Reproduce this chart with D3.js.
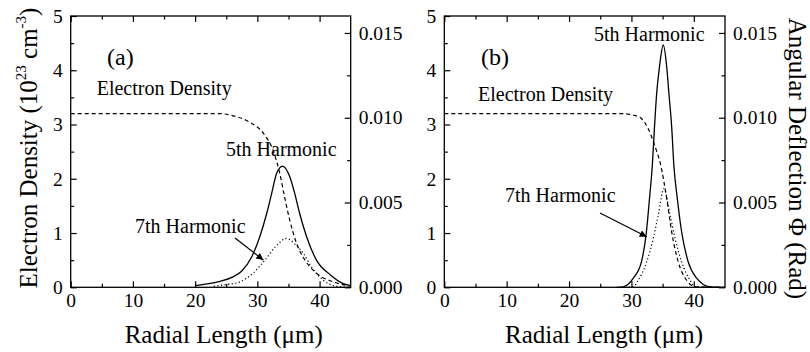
<!DOCTYPE html>
<html><head><meta charset="utf-8">
<script src="https://cdn.jsdelivr.net/npm/d3@7/dist/d3.min.js"></script>
<style>body{margin:0;background:#fff}svg{display:block}</style>
</head><body><svg id="c" width="810" height="352"></svg>
<script>
// ---- data ----
const xTicks = [0, 10, 20, 30, 40];
const xMinor = [5, 15, 25, 35];
const yLeftTicks = [0, 1, 2, 3, 4, 5];
const yLeftMinor = [0.5, 1.5, 2.5, 3.5, 4.5];
const yRightTicks = [0, 0.005, 0.010, 0.015];
const yRightMinor = [0.0025, 0.0075, 0.0125];

// panel (a): electron density (10^23 cm^-3) vs radial length (um)
const densityA = [[0,3.2],[10,3.2],[20,3.2],[24,3.2],[26.1,3.16],[28.8,3.04],[30.95,2.84],[32.6,2.5],[33.6,2.1],[34.4,1.65],[35.2,1.24],[36.3,0.81],[37.65,0.5],[39.5,0.26],[42.2,0.1],[45,0.02]];
// panel (a): angular deflection (rad)
const fifthA = [[20,0.0001],[22,0.0002],[24,0.00035],[26,0.0006],[27.5,0.00096],[29.1,0.0018],[30.4,0.003],[31.5,0.00435],[32.3,0.00554],[33.1,0.00672],[34.05,0.00715],[35.2,0.00653],[36,0.00554],[36.8,0.00435],[37.9,0.003],[39.5,0.0016],[41.7,0.00074],[43.8,0.00022],[45,0.0001]];
const seventhA = [[23,0.00006],[25,0.00016],[27.2,0.00032],[29.3,0.00083],[31.2,0.0016],[33,0.00243],[34.7,0.00288],[36,0.00256],[37.4,0.002],[38.7,0.0012],[40.6,0.00042],[42.7,0.00006],[45,0]];

// panel (b)
const densityB = [[0,3.2],[10,3.2],[20,3.2],[28.5,3.2],[30,3.18],[31.4,3.13],[32.7,2.92],[33.8,2.59],[34.7,2.25],[35.65,1.64],[36.45,1.02],[37.5,0.47],[38.85,0.13],[40.2,0.01],[45,0]];
const fifthB = [[27.6,0],[28.7,0.00003],[30.3,0.00054],[31.6,0.0015],[32.4,0.00326],[32.9,0.00525],[33.35,0.0072],[33.7,0.00947],[34.05,0.01146],[34.5,0.01302],[35.1,0.01429],[35.65,0.01302],[36,0.01146],[36.45,0.00947],[36.8,0.0072],[37.35,0.00525],[38.05,0.00326],[39.1,0.0015],[40.45,0.00054],[42.6,0.00003],[45,0]];
const seventhB = [[29,0],[30.3,0.00003],[31.1,0.00042],[32.45,0.0015],[33.5,0.00288],[34.3,0.00426],[35.2,0.00582],[36.2,0.00426],[37,0.00288],[38.05,0.0015],[39.4,0.00042],[40.2,0.00003],[42,0]];

const panels = [
  {x0: 70.7, x1: 350.7, tag: "(a)", tagPos: [107, 65],
   dens: densityA, h5: fifthA, h7: seventhA,
   edPos: [96.7, 94.5], h5Pos: [226, 155.5], h7Pos: [135, 233.3],
   arrow: [[235, 238], [263.3, 260]], xTitle: 223.7},
  {x0: 444.3, x1: 725, tag: "(b)", tagPos: [481, 65],
   dens: densityB, h5: fifthB, h7: seventhB,
   edPos: [478, 101], h5Pos: [594, 41], h7Pos: [505, 202.3],
   arrow: [[600, 213], [646.7, 236.7]], xTitle: 604}
];

const FONT = "'Liberation Serif','Times New Roman',serif";
const svg = d3.select("#c");
const yTop = 16, yBot = 287.3;

svg.append("defs").append("marker").attr("id","ah").attr("viewBox","0 0 10 10")
  .attr("refX",10).attr("refY",5).attr("markerWidth",9).attr("markerHeight",7)
  .attr("markerUnits","userSpaceOnUse").attr("orient","auto")
  .append("path").attr("d","M0,0L10,5L0,10z").attr("fill","#000");

panels.forEach(p => {
  const x = d3.scaleLinear().domain([0,45]).range([p.x0, p.x1]);
  const yL = d3.scaleLinear().domain([0,5]).range([yBot, yTop]);
  const yR = d3.scaleLinear().domain([0,0.016]).range([yBot, yTop]);
  const g = svg.append("g");

  function addAxis(axis, tr) {
    const a = g.append("g").attr("transform", tr).call(axis);
    a.select(".domain").remove();
    a.selectAll("line").attr("stroke","#000").attr("stroke-width",1.2);
    a.selectAll("text").attr("font-family",FONT).attr("font-size","19.5px").attr("fill","#000");
    return a;
  }
  addAxis(d3.axisBottom(x).tickValues(xTicks).tickSizeInner(-6).tickSizeOuter(0).tickPadding(6).tickFormat(d3.format("d")), `translate(0,${yBot})`);
  addAxis(d3.axisBottom(x).tickValues(xMinor).tickSizeInner(-3.5).tickSizeOuter(0).tickFormat(""), `translate(0,${yBot})`);
  addAxis(d3.axisTop(x).tickValues(xTicks).tickSizeInner(-6).tickSizeOuter(0).tickFormat(""), `translate(0,${yTop})`);
  addAxis(d3.axisTop(x).tickValues(xMinor).tickSizeInner(-3.5).tickSizeOuter(0).tickFormat(""), `translate(0,${yTop})`);
  addAxis(d3.axisLeft(yL).tickValues(yLeftTicks).tickSizeInner(-6).tickSizeOuter(0).tickPadding(8).tickFormat(d3.format("d")), `translate(${p.x0},0)`);
  addAxis(d3.axisLeft(yL).tickValues(yLeftMinor).tickSizeInner(-3.5).tickSizeOuter(0).tickFormat(""), `translate(${p.x0},0)`);
  addAxis(d3.axisRight(yR).tickValues(yRightTicks).tickSizeInner(-6).tickSizeOuter(0).tickPadding(8).tickFormat(d3.format(".3f")), `translate(${p.x1},0)`);
  addAxis(d3.axisRight(yR).tickValues(yRightMinor).tickSizeInner(-3.5).tickSizeOuter(0).tickFormat(""), `translate(${p.x1},0)`);

  g.append("rect").attr("x",p.x0).attr("y",yTop).attr("width",p.x1-p.x0).attr("height",yBot-yTop)
    .attr("fill","none").attr("stroke","#000").attr("stroke-width",1.3);

  const lineL = d3.line().x(d=>x(d[0])).y(d=>yL(d[1])).curve(d3.curveMonotoneX);
  const lineR = d3.line().x(d=>x(d[0])).y(d=>yR(d[1])).curve(d3.curveMonotoneX);
  g.append("path").attr("d", lineL(p.dens)).attr("fill","none").attr("stroke","#000")
    .attr("stroke-width",1.2).attr("stroke-dasharray","4,3");
  g.append("path").attr("d", lineR(p.h5)).attr("fill","none").attr("stroke","#000")
    .attr("stroke-width",1.3);
  g.append("path").attr("d", lineR(p.h7)).attr("fill","none").attr("stroke","#000")
    .attr("stroke-width",1.2).attr("stroke-dasharray","1.2,2.4");

  const txt = (s, pos, size) => g.append("text").attr("x",pos[0]).attr("y",pos[1])
    .attr("font-family",FONT).attr("font-size",size).attr("fill","#000").text(s);
  txt(p.tag, p.tagPos, "24px");
  txt("Electron Density", p.edPos, "20px");
  txt("5th Harmonic", p.h5Pos, "20px");
  txt("7th Harmonic", p.h7Pos, "20px");

  g.append("line").attr("x1",p.arrow[0][0]).attr("y1",p.arrow[0][1])
    .attr("x2",p.arrow[1][0]).attr("y2",p.arrow[1][1])
    .attr("stroke","#000").attr("stroke-width",1.2).attr("marker-end","url(#ah)");

  g.append("text").attr("x",p.xTitle).attr("y",343).attr("text-anchor","middle")
    .attr("font-family",FONT).attr("font-size","25px").attr("fill","#000").text("Radial Length (\u03bcm)");
});

const lt = svg.append("text").attr("transform","translate(37,148) rotate(-90)")
  .attr("text-anchor","middle").attr("font-family",FONT).attr("font-size","25px").attr("fill","#000");
lt.append("tspan").text("Electron Density (10");
lt.append("tspan").attr("font-size","15px").attr("dy",-11).text("23");
lt.append("tspan").attr("dy",11).text(" cm");
lt.append("tspan").attr("font-size","15px").attr("dy",-11).text("-3");
lt.append("tspan").attr("dy",11).text(")");

svg.append("text").attr("transform","translate(789,158.5) rotate(90)")
  .attr("text-anchor","middle").attr("font-family",FONT).attr("font-size","25px").attr("fill","#000")
  .text("Angular Deflection \u03a6 (Rad)");
</script></body></html>
